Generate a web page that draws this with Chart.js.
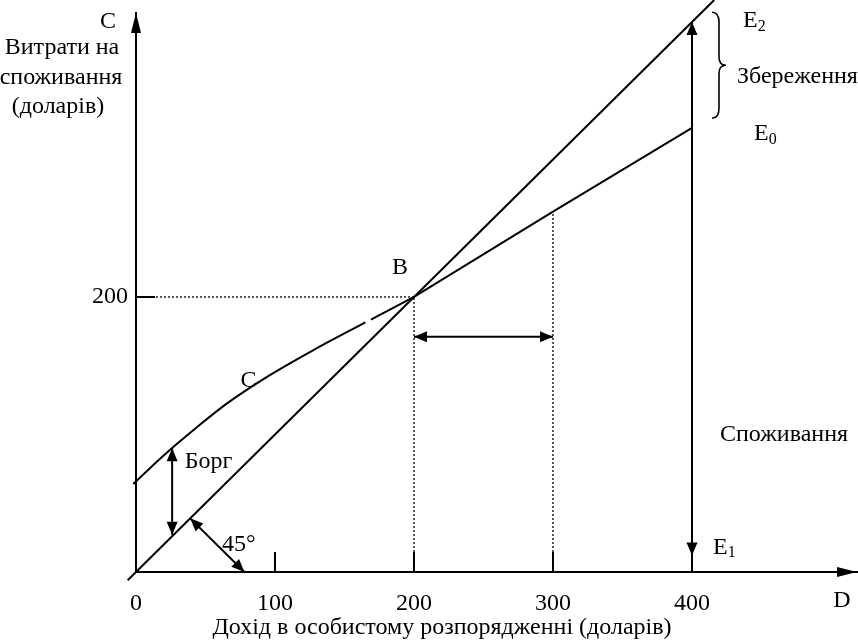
<!DOCTYPE html>
<html>
<head>
<meta charset="utf-8">
<script src="https://cdn.jsdelivr.net/npm/chart.js@4.4.1/dist/chart.umd.min.js"></script>
<style>
  html, body { margin: 0; padding: 0; background: #fff; }
  #wrap { width: 858px; height: 641px; }
</style>
</head>
<body>
<div id="wrap"><canvas id="chart" width="858" height="641"></canvas></div>
<script>
// tick labels
const incomeTicks = [0, 100, 200, 300, 400];
const spendTicks = [200];

// 45 degree line (income = spending)
const line45X = [-6, 416];
const line45Y = [-6, 416];

// consumption function C, drawn in two pieces (small gap near B)
const consLowX = [-2, 10, 27, 44, 66, 92, 127, 165];
const consLowY = [64, 75.5, 91, 105.5, 123, 140.5, 161, 181.5];
const consHighX = [169, 200, 300, 400];
const consHighY = [183.5, 200, 262, 323];

// helper lines and arrows
const guideB = { x: 200, y: 200 };
const guide300 = { x: 300, y: 262 };
const spanArrowY = 171;
const debtX = 26, debtTop = 90, debtBottom = 27;
const fullX = 400, fullTop = 400, fullBottom = 12;
const angleFrom = { x: 39, y: 39 }, angleTo = { x: 78, y: 0 };

const FONT = '"Liberation Serif", "DejaVu Serif", serif';
const SIZE = 24;
const pts = (xs, ys) => xs.map((x, i) => ({ x: x, y: ys[i] }));

const solid = { borderColor: '#000', borderWidth: 2, pointRadius: 0, showLine: true, fill: false, clip: false };
const dotted = { borderColor: '#000', borderWidth: 1.3, borderDash: [2, 2], pointRadius: 0, showLine: true, fill: false, clip: false };

function arrowHead(ctx, tx, ty, fx, fy, len = 13, half = 5.5) {
  const dx = tx - fx, dy = ty - fy;
  const d = Math.hypot(dx, dy);
  const ux = dx / d, uy = dy / d;
  const bx = tx - ux * len, by = ty - uy * len;
  ctx.beginPath();
  ctx.moveTo(tx, ty);
  ctx.lineTo(bx - uy * half, by + ux * half);
  ctx.lineTo(bx + uy * half, by - ux * half);
  ctx.closePath();
  ctx.fill();
}

function subText(ctx, main, sub, x, y) {
  ctx.font = SIZE + 'px ' + FONT;
  ctx.textAlign = 'left';
  ctx.textBaseline = 'middle';
  ctx.fillText(main, x, y);
  const w = ctx.measureText(main).width;
  ctx.font = '16px ' + FONT;
  ctx.fillText(sub, x + w, y + 6);
}

const decorations = {
  id: 'decorations',
  afterDatasetsDraw(chart) {
    const ctx = chart.ctx;
    const xs = chart.scales.x, ys = chart.scales.y;
    const X = v => xs.getPixelForValue(v), Y = v => ys.getPixelForValue(v);
    const area = chart.chartArea;
    ctx.save();
    ctx.fillStyle = '#000';
    ctx.strokeStyle = '#000';

    // axis arrows
    arrowHead(ctx, area.left, area.top, area.left, area.top + 30, 20, 5);
    arrowHead(ctx, area.right, area.bottom, area.right - 30, area.bottom, 20, 5);

    // short tick marks inside the axes
    ctx.lineWidth = 2;
    ctx.beginPath();
    incomeTicks.filter(v => v > 0 && v < 400).forEach(v => {
      ctx.moveTo(X(v), area.bottom);
      ctx.lineTo(X(v), area.bottom - 20);
    });
    spendTicks.forEach(v => {
      ctx.moveTo(area.left, Y(v));
      ctx.lineTo(area.left + 19, Y(v));
    });
    ctx.stroke();

    // arrow heads
    arrowHead(ctx, X(debtX), Y(debtTop), X(debtX), Y(debtBottom));
    arrowHead(ctx, X(debtX), Y(debtBottom), X(debtX), Y(debtTop));
    arrowHead(ctx, X(fullX), Y(fullTop), X(fullX), Y(fullBottom));
    arrowHead(ctx, X(fullX), Y(fullBottom), X(fullX), Y(fullTop));
    arrowHead(ctx, X(guideB.x), Y(spanArrowY), X(guide300.x), Y(spanArrowY));
    arrowHead(ctx, X(guide300.x), Y(spanArrowY), X(guideB.x), Y(spanArrowY));
    arrowHead(ctx, X(angleFrom.x), Y(angleFrom.y), X(angleTo.x), Y(angleTo.y));
    arrowHead(ctx, X(angleTo.x), Y(angleTo.y), X(angleFrom.x), Y(angleFrom.y));

    // savings brace
    const bx = X(fullX) + 20, top = Y(407), bot = Y(330), mid = (top + bot) / 2;
    ctx.lineWidth = 1.6;
    ctx.beginPath();
    ctx.moveTo(bx, top);
    ctx.quadraticCurveTo(bx + 7, top, bx + 7, top + 10);
    ctx.lineTo(bx + 7, mid - 8);
    ctx.quadraticCurveTo(bx + 7, mid, bx + 14, mid);
    ctx.quadraticCurveTo(bx + 7, mid, bx + 7, mid + 8);
    ctx.lineTo(bx + 7, bot - 10);
    ctx.quadraticCurveTo(bx + 7, bot, bx, bot);
    ctx.stroke();

    // labels
    ctx.font = SIZE + 'px ' + FONT;
    ctx.textBaseline = 'middle';
    ctx.textAlign = 'center';
    ctx.fillText('C', 108, 22);
    ctx.fillText('Витрати на', 62, 48);
    ctx.fillText('споживання', 61, 78);
    ctx.fillText('(доларів)', 58, 107);
    ctx.fillText('B', X(190), Y(221));
    ctx.fillText('C', X(81), Y(139));
    ctx.fillText('45°', X(74), Y(19.5));
    ctx.fillText('D', 842, 601);
    ctx.fillText('Дохід в особистому розпорядженні (доларів)', 442, 628);
    ctx.textAlign = 'left';
    ctx.fillText('Борг', X(35), Y(80));
    ctx.fillText('Збереження', X(fullX) + 45, Y(360));
    ctx.fillText('Споживання', X(fullX) + 28, Y(99.5));
    subText(ctx, 'E', '2', X(fullX) + 51, Y(401));
    subText(ctx, 'E', '0', X(fullX) + 62, Y(319));
    subText(ctx, 'E', '1', X(fullX) + 21, Y(18));
    ctx.restore();
  }
};

new Chart(document.getElementById('chart'), {
  type: 'scatter',
  data: {
    datasets: [
      Object.assign({ data: pts(line45X, line45Y) }, solid),
      Object.assign({ data: pts(consLowX, consLowY), cubicInterpolationMode: 'monotone' }, solid),
      Object.assign({ data: pts(consHighX, consHighY) }, solid),
      Object.assign({ data: [{ x: 0, y: guideB.y }, { x: guideB.x, y: guideB.y }] }, dotted),
      Object.assign({ data: [{ x: guideB.x, y: 0 }, { x: guideB.x, y: guideB.y }] }, dotted),
      Object.assign({ data: [{ x: guide300.x, y: 0 }, { x: guide300.x, y: guide300.y }] }, dotted),
      Object.assign({ data: [{ x: guideB.x, y: spanArrowY }, { x: guide300.x, y: spanArrowY }] }, solid),
      Object.assign({ data: [{ x: debtX, y: debtTop }, { x: debtX, y: debtBottom }] }, solid),
      Object.assign({ data: [{ x: fullX, y: 0 }, { x: fullX, y: fullTop }] }, solid),
      Object.assign({ data: [angleFrom, angleTo] }, solid)
    ]
  },
  options: {
    responsive: false,
    animation: false,
    layout: { padding: { top: 13, right: 1, left: 0, bottom: 0 } },
    plugins: { legend: { display: false }, tooltip: { enabled: false } },
    scales: {
      x: {
        type: 'linear',
        min: 0,
        max: 518.7,
        afterFit: s => { s.height = 69; s.paddingLeft = 0; s.paddingRight = 0; },
        afterBuildTicks: s => { s.ticks = incomeTicks.map(v => ({ value: v })); },
        grid: { display: false, drawTicks: false },
        border: { display: true, color: '#000', width: 2 },
        ticks: { color: '#000', font: { family: FONT, size: SIZE }, padding: 17, maxRotation: 0, autoSkip: false }
      },
      y: {
        type: 'linear',
        min: 0,
        max: 406.5,
        afterFit: s => { s.width = 136; s.paddingTop = 0; s.paddingBottom = 0; },
        afterBuildTicks: s => { s.ticks = spendTicks.map(v => ({ value: v })); },
        grid: { display: false, drawTicks: false },
        border: { display: true, color: '#000', width: 2 },
        ticks: { color: '#000', font: { family: FONT, size: SIZE }, padding: 8 }
      }
    }
  },
  plugins: [decorations]
});
</script>
</body>
</html>
